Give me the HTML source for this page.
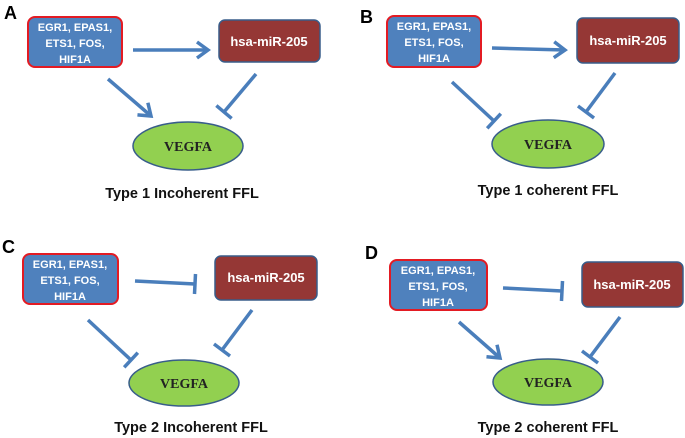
<!DOCTYPE html>
<html><head><meta charset="utf-8"><style>
html,body{margin:0;padding:0;background:#fff;}
svg{display:block;}
.lbl{font-family:"Liberation Sans",sans-serif;font-weight:bold;font-size:18px;fill:#000;}
.bt{font-family:"Liberation Sans",sans-serif;font-weight:bold;font-size:11px;fill:#fff;text-anchor:middle;}
.mt{font-family:"Liberation Sans",sans-serif;font-weight:bold;font-size:13px;fill:#fff;text-anchor:middle;}
.vt{font-family:"Liberation Serif",serif;font-weight:bold;font-size:14px;fill:#222;text-anchor:middle;}
.cap{font-family:"Liberation Sans",sans-serif;font-weight:bold;font-size:14.5px;fill:#111;text-anchor:middle;}
.ln{stroke:#4a7ebb;stroke-width:3.5;fill:none;}
</style></head><body>
<svg width="685" height="438" viewBox="0 0 685 438" xmlns="http://www.w3.org/2000/svg">
<defs>
<marker id="ar" markerUnits="userSpaceOnUse" markerWidth="20" markerHeight="20" refX="14" refY="10" orient="auto">
<polyline points="3,2 14,10 3,18" fill="none" stroke="#4a7ebb" stroke-width="3.5"/>
</marker>
<marker id="tb" markerUnits="userSpaceOnUse" markerWidth="20" markerHeight="24" refX="10" refY="12" orient="auto">
<line x1="10" y1="2" x2="10" y2="22" stroke="#4a7ebb" stroke-width="3.5"/>
</marker>
</defs>

<!-- A -->
<text class="lbl" x="4" y="19">A</text>
<rect x="28" y="17" width="94" height="50" rx="7" fill="#4f81bd" stroke="#e31b23" stroke-width="2"/>
<text class="bt" x="75" y="31">EGR1, EPAS1,</text><text class="bt" x="75" y="47">ETS1, FOS,</text><text class="bt" x="75" y="63">HIF1A</text>
<rect x="219" y="20" width="101" height="42" rx="6" fill="#953735" stroke="#385d8a" stroke-width="1.5"/>
<text class="mt" x="269" y="46">hsa-miR-205</text>
<line class="ln" x1="133" y1="50" x2="208" y2="50" marker-end="url(#ar)"/>
<line class="ln" x1="108" y1="79" x2="151" y2="116" marker-end="url(#ar)"/>
<line class="ln" x1="256" y1="74" x2="224" y2="112" marker-end="url(#tb)"/>
<ellipse cx="188" cy="146" rx="55" ry="24" fill="#92d050" stroke="#385d8a" stroke-width="1.5"/>
<text class="vt" x="188" y="151">VEGFA</text>
<text class="cap" x="182" y="198">Type 1 Incoherent FFL</text>

<!-- B -->
<text class="lbl" x="360" y="23">B</text>
<rect x="387" y="16" width="94" height="51" rx="7" fill="#4f81bd" stroke="#e31b23" stroke-width="2"/>
<text class="bt" x="434" y="30">EGR1, EPAS1,</text><text class="bt" x="434" y="46">ETS1, FOS,</text><text class="bt" x="434" y="62">HIF1A</text>
<rect x="577" y="18" width="102" height="45" rx="6" fill="#953735" stroke="#385d8a" stroke-width="1.5"/>
<text class="mt" x="628" y="45">hsa-miR-205</text>
<line class="ln" x1="492" y1="48" x2="565" y2="50" marker-end="url(#ar)"/>
<line class="ln" x1="452" y1="82" x2="494" y2="121" marker-end="url(#tb)"/>
<line class="ln" x1="615" y1="73" x2="586" y2="112" marker-end="url(#tb)"/>
<ellipse cx="548" cy="144" rx="56" ry="24" fill="#92d050" stroke="#385d8a" stroke-width="1.5"/>
<text class="vt" x="548" y="149">VEGFA</text>
<text class="cap" x="548" y="195">Type 1 coherent FFL</text>

<!-- C -->
<text class="lbl" x="2" y="253">C</text>
<rect x="23" y="254" width="95" height="50" rx="7" fill="#4f81bd" stroke="#e31b23" stroke-width="2"/>
<text class="bt" x="70" y="268">EGR1, EPAS1,</text><text class="bt" x="70" y="284">ETS1, FOS,</text><text class="bt" x="70" y="300">HIF1A</text>
<rect x="215" y="256" width="102" height="44" rx="6" fill="#953735" stroke="#385d8a" stroke-width="1.5"/>
<text class="mt" x="266" y="282">hsa-miR-205</text>
<line class="ln" x1="135" y1="281" x2="195" y2="284" marker-end="url(#tb)"/>
<line class="ln" x1="88" y1="320" x2="131" y2="360" marker-end="url(#tb)"/>
<line class="ln" x1="252" y1="310" x2="222" y2="350" marker-end="url(#tb)"/>
<ellipse cx="184" cy="383" rx="55" ry="23" fill="#92d050" stroke="#385d8a" stroke-width="1.5"/>
<text class="vt" x="184" y="388">VEGFA</text>
<text class="cap" x="191" y="432">Type 2 Incoherent FFL</text>

<!-- D -->
<text class="lbl" x="365" y="259">D</text>
<rect x="390" y="260" width="97" height="50" rx="7" fill="#4f81bd" stroke="#e31b23" stroke-width="2"/>
<text class="bt" x="438" y="274">EGR1, EPAS1,</text><text class="bt" x="438" y="290">ETS1, FOS,</text><text class="bt" x="438" y="306">HIF1A</text>
<rect x="582" y="262" width="101" height="45" rx="6" fill="#953735" stroke="#385d8a" stroke-width="1.5"/>
<text class="mt" x="632" y="289">hsa-miR-205</text>
<line class="ln" x1="503" y1="288" x2="562" y2="291" marker-end="url(#tb)"/>
<line class="ln" x1="459" y1="322" x2="500" y2="358" marker-end="url(#ar)"/>
<line class="ln" x1="620" y1="317" x2="590" y2="357" marker-end="url(#tb)"/>
<ellipse cx="548" cy="382" rx="55" ry="23" fill="#92d050" stroke="#385d8a" stroke-width="1.5"/>
<text class="vt" x="548" y="387">VEGFA</text>
<text class="cap" x="548" y="432">Type 2 coherent FFL</text>
</svg>
</body></html>
